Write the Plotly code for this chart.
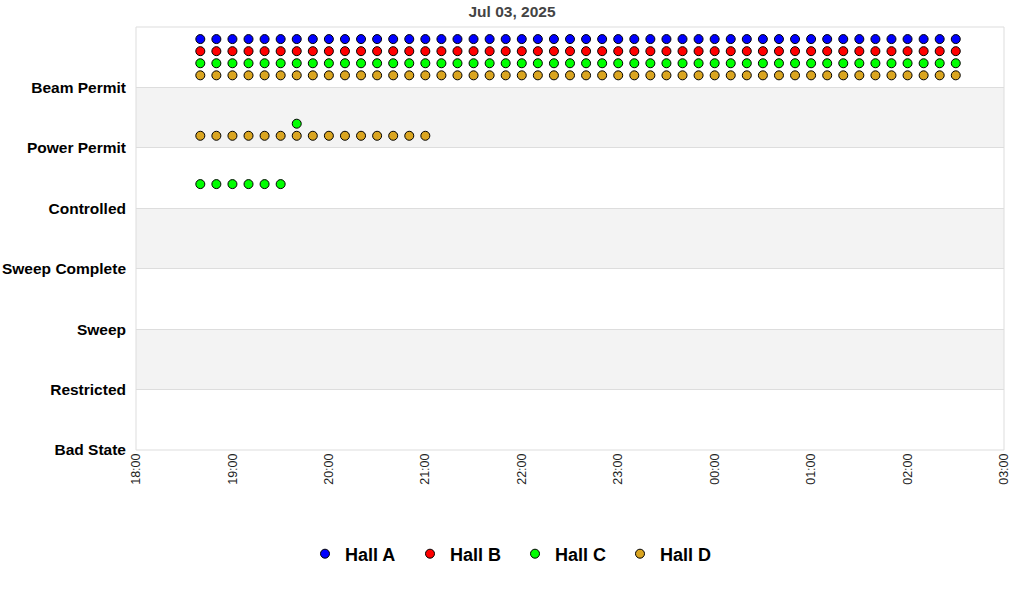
import plotly.graph_objects as go
from datetime import datetime, timedelta

# ---- data ----
TITLE = "Jul 03, 2025"
STATES = ["Bad State", "Restricted", "Sweep", "Sweep Complete",
          "Controlled", "Power Permit", "Beam Permit"]
X_TICKS = ["18:00", "19:00", "20:00", "21:00", "22:00", "23:00",
           "00:00", "01:00", "02:00", "03:00"]
SAMPLE_TIMES = [
    "18:40", "18:50", "19:00", "19:10", "19:20", "19:30", "19:40", "19:50",
    "20:00", "20:10", "20:20", "20:30", "20:40", "20:50", "21:00", "21:10",
    "21:20", "21:30", "21:40", "21:50", "22:00", "22:10", "22:20", "22:30",
    "22:40", "22:50", "23:00", "23:10", "23:20", "23:30", "23:40", "23:50",
    "00:00", "00:10", "00:20", "00:30", "00:40", "00:50", "01:00", "01:10",
    "01:20", "01:30", "01:40", "01:50", "02:00", "02:10", "02:20", "02:30",
]
hall_a_beam_permit = SAMPLE_TIMES
hall_b_beam_permit = SAMPLE_TIMES
hall_c_beam_permit = SAMPLE_TIMES
hall_c_power_permit = ["19:40"]
hall_c_controlled = ["18:40", "18:50", "19:00", "19:10", "19:20", "19:30"]
hall_d_beam_permit = SAMPLE_TIMES
hall_d_power_permit = ["18:40", "18:50", "19:00", "19:10", "19:20", "19:30",
                       "19:40", "19:50", "20:00", "20:10", "20:20", "20:30",
                       "20:40", "20:50", "21:00"]

HALLS = [
    ("Hall A", "#0000ff", 0.8, {"Beam Permit": hall_a_beam_permit}),
    ("Hall B", "#ff0000", 0.6, {"Beam Permit": hall_b_beam_permit}),
    ("Hall C", "#00ff00", 0.4, {"Beam Permit": hall_c_beam_permit,
                                "Power Permit": hall_c_power_permit,
                                "Controlled": hall_c_controlled}),
    ("Hall D", "#daa520", 0.2, {"Beam Permit": hall_d_beam_permit,
                                "Power Permit": hall_d_power_permit}),
]

DAY0 = datetime(2025, 7, 3)


def to_dt(hm):
    h, m = map(int, hm.split(":"))
    d = DAY0 if h >= 12 else DAY0 + timedelta(days=1)
    return d.replace(hour=h, minute=m)


fig = go.Figure()
for name, color, offset, groups in HALLS:
    xs, ys = [], []
    for state, times in groups.items():
        for t in times:
            xs.append(to_dt(t))
            ys.append(STATES.index(state) + offset)
    fig.add_trace(go.Scatter(
        x=xs, y=ys, mode="markers", name=name,
        marker=dict(size=9, color=color, line=dict(color="black", width=1)),
    ))

shapes = []
for i in (1, 3, 5):
    shapes.append(dict(type="rect", xref="paper", yref="y", x0=0, x1=1,
                       y0=i, y1=i + 1, fillcolor="#f3f3f3",
                       line=dict(width=0), layer="below"))
shapes.append(dict(type="rect", xref="paper", yref="paper", x0=0, x1=1,
                   y0=0, y1=1, line=dict(color="#dddddd", width=1),
                   fillcolor="rgba(0,0,0,0)", layer="above"))

tick_dts = [to_dt(t) for t in X_TICKS]
tick_dts[-1] = DAY0 + timedelta(days=1, hours=3)

W, H = 1024, 600

fig.update_layout(
    width=W, height=H,
    margin=dict(l=136, r=20, t=27, b=150, autoexpand=False),
    paper_bgcolor="white", plot_bgcolor="white",
    font=dict(family="Liberation Sans, Arial, sans-serif", color="#000"),
    title=dict(text="<b>" + TITLE + "</b>", xref="container", x=0.5,
               xanchor="center", yref="container", y=1 - 12 / H,
               yanchor="middle", font=dict(size=15.5, color="#444")),
    shapes=shapes,
    showlegend=True,
    legend=dict(orientation="h", xref="container", x=0.5 + 3 / W, xanchor="center",
                yref="container", y=1 - 554 / H, yanchor="middle",
                font=dict(size=18, color="#000", weight="bold"),
                entrywidth=60, itemclick=False),
    xaxis=dict(type="date", automargin=False,
               range=[DAY0 + timedelta(hours=18), DAY0 + timedelta(days=1, hours=3)],
               tickvals=tick_dts, ticktext=X_TICKS, tickangle=-90,
               tickfont=dict(size=12.5, color="#222"),
               showgrid=False, zeroline=False, showline=False, ticks=""),
    yaxis=dict(range=[0, 7], tickvals=list(range(len(STATES))), automargin=False,
               ticktext=["<b>" + s + "</b>" for s in STATES],
               tickfont=dict(size=15.5, color="#000"),
               showgrid=True, gridcolor="#dddddd", gridwidth=1,
               zeroline=False, showline=False, ticks="", ticklabelstandoff=9),
)

fig.write_html("out.html",
               config={"displayModeBar": False},
               post_script="document.body.style.margin='0';"
                           "document.body.style.padding='0';")
